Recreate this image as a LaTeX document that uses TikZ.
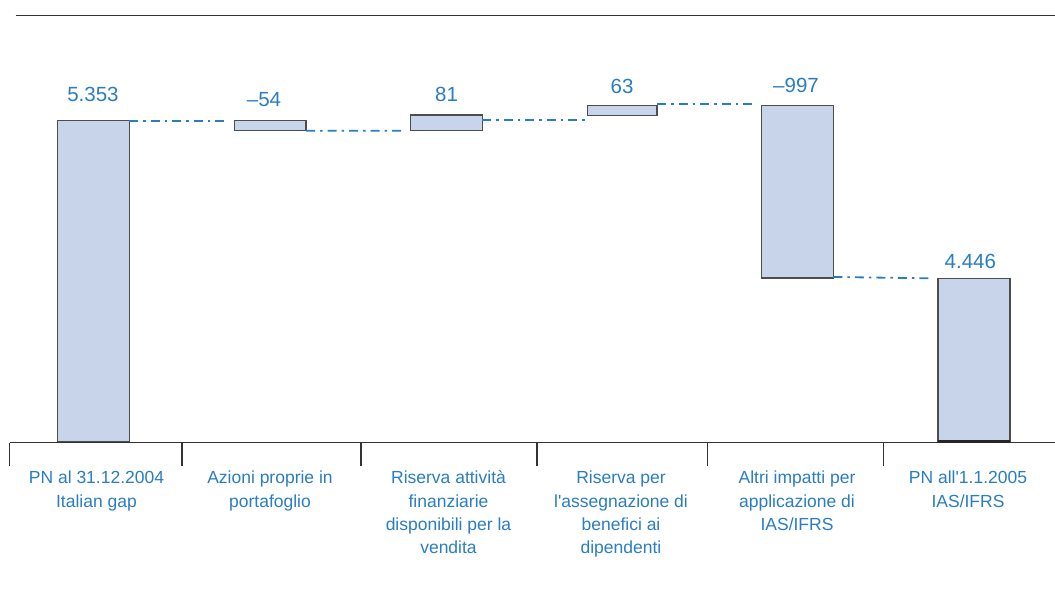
\documentclass[tikz,border=0pt]{standalone}
\usepackage{fontspec}
\setmainfont{Liberation Sans}
\usetikzlibrary{calc}
\definecolor{barfill}{HTML}{C8D4EA}
\definecolor{barline}{HTML}{4D4D4D}
\definecolor{txtblue}{HTML}{2A7DC2}
\definecolor{rulegray}{HTML}{333333}
\tikzset{
  bar/.style={draw=barline, line width=1.3pt, fill=barfill, rectangle,
    anchor=north west, inner sep=0pt, outer sep=0pt},
  link/.style={draw=txtblue, line width=1.8pt,
    dash pattern=on 9pt off 5pt on 2.5pt off 5pt},
  value/.style={text=txtblue, anchor=base, inner sep=0pt,
    font=\fontsize{20.5}{24}\selectfont},
  catlabel/.style={text=txtblue, anchor=north, inner sep=0pt, align=center,
    font=\fontsize{17.5}{23.4}\selectfont},
  rule/.style={draw=rulegray, line width=1.3pt},
}
\begin{document}
\begin{tikzpicture}[x=1pt, y=-1pt]
\useasboundingbox (0,0) rectangle (1055,608);

% top rule
\draw[rule] (15.7,15.3) -- (1055,15.3);

% bars of the bridge
\node[bar, minimum width=71.8pt, minimum height=320.6pt] (b1) at (57.5,120.7) {};
\node[bar, minimum width=71.7pt, minimum height=10pt]    (b2) at (234.3,120.7) {};
\node[bar, minimum width=71.6pt, minimum height=15.7pt]  (b3) at (410.7,115) {};
\node[bar, minimum width=69.7pt, minimum height=10pt]    (b4) at (587.3,105.3) {};
\node[bar, minimum width=71.8pt, minimum height=172.7pt] (b5) at (761.5,105.3) {};
\node[bar, minimum width=72pt,   minimum height=163pt]   (b6) at (938,278.3) {};

% dash-dot links between bar levels
\draw[link] (b1.north east) -- ([xshift=-7pt]b2.north west);
\draw[link] (b2.south east) -- ([xshift=-6pt]b3.south west);
\draw[link] ([yshift=-5pt]b3.north east) -- ([yshift=-5pt]b3.north east -| b4.west);
\draw[link] ([yshift=1.3pt]b4.north east) -- ([xshift=-8pt,yshift=1.3pt]b5.north west);
\draw[link] ([yshift=1pt]b5.south east) -- ([xshift=-7pt]b6.north west);

% values
\node[value] (v1) at (93,101.7) {5.353};
\node[value] (v2) at (264,106) {–54};
\node[value] (v3) at (446.5,101.7) {81};
\node[value] (v4) at (622,93.3) {63};
\node[value] (v5) at (796,92.3) {–997};
\node[value] (v6) at (970.3,268.3) {4.446};

% category axis
\draw[rule] (9.6,442.5) -- (1055,442.5);
\foreach \t in {9.6,182,361,537,707.8,883.5}
  \draw[rule] (\t,442.5) -- (\t,466);
\draw[draw=black!85, line width=2.6pt] (b6.south west) -- (b6.south east);

% category labels
\node[catlabel] (c1) at (96.5,467.1) {\strut PN al 31.12.2004\\Italian gap};
\node[catlabel] (c2) at (270,467.1) {\strut Azioni proprie in\\portafoglio};
\node[catlabel] (c3) at (448.5,467.1) {\strut Riserva attività\\finanziarie\\disponibili per la\\vendita};
\node[catlabel] (c4) at (621,467.1) {\strut Riserva per\\l\textquotesingle assegnazione di\\benefici ai\\dipendenti};
\node[catlabel] (c5) at (797,467.1) {\strut Altri impatti per\\applicazione di\\IAS/IFRS};
\node[catlabel] (c6) at (968,467.1) {\strut PN all\textquotesingle 1.1.2005\\IAS/IFRS};
\end{tikzpicture}
\end{document}
